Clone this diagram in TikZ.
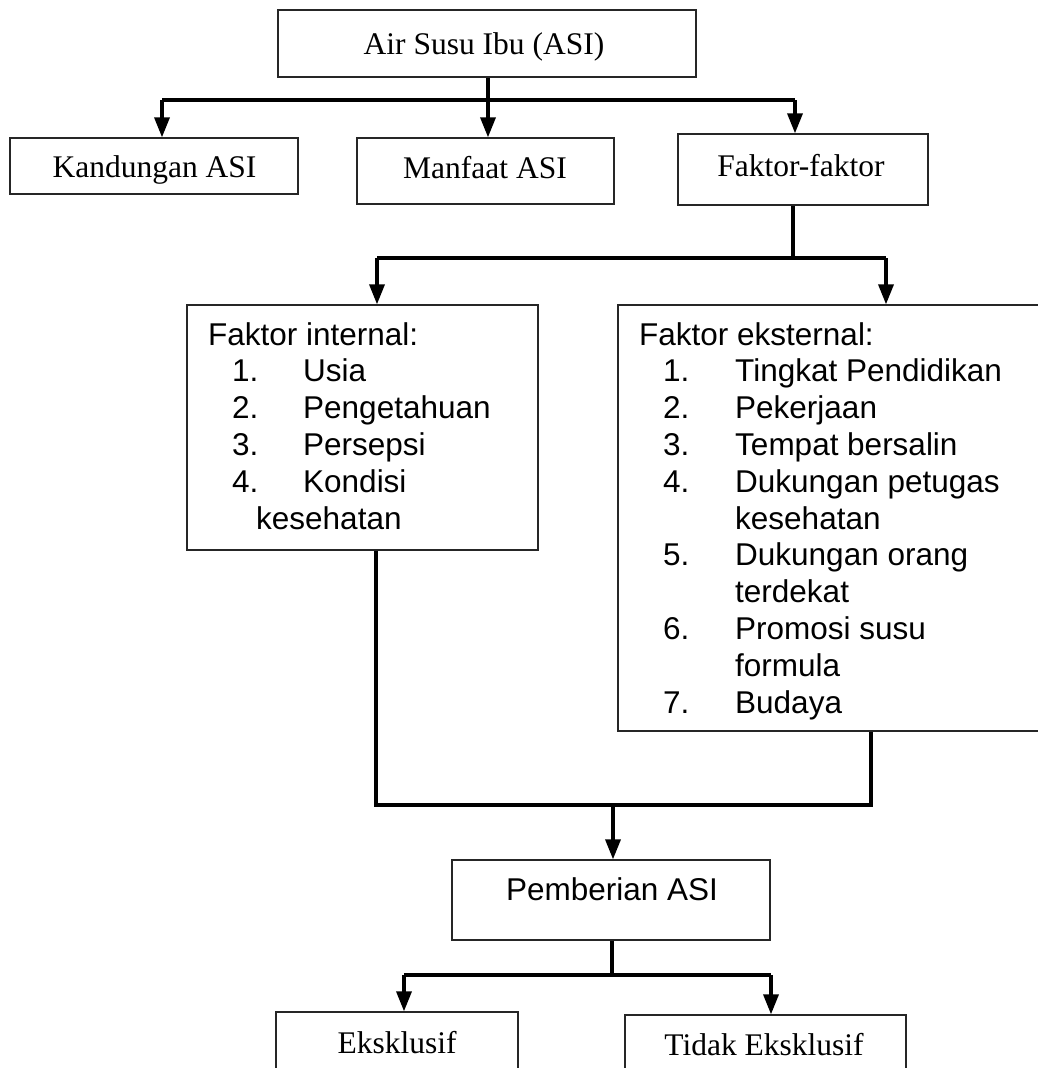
\documentclass[tikz,border=0pt]{standalone}
\usepackage{fontspec}
\setmainfont{Liberation Serif}
\newfontfamily\arialf{Liberation Sans}
\usetikzlibrary{arrows.meta}
\tikzset{
  box/.style={draw=black!85, line width=1.3pt, inner sep=0pt},
  conn/.style={line width=3.4pt, line join=miter},
  arr/.style={conn, -{Triangle[length=20pt,width=15pt]}},
  serift/.style={font=\fontsize{31.5}{36}\selectfont, inner sep=0pt},
  sanst/.style={font=\arialf\fontsize{31.5}{36}\selectfont, inner sep=0pt},
}
\begin{document}
\begin{tikzpicture}[x=1pt,y=-1pt]
\useasboundingbox (0,0) rectangle (1038,1068);
\clip (0,0) rectangle (1038,1068);
\fill[white] (0,0) rectangle (1038,1068);
% boxes
\node[box, minimum width=418pt, minimum height=67pt] (top) at (487,43.5) {};
\node[box, minimum width=288pt, minimum height=56pt] (kand) at (154,166) {};
\node[box, minimum width=257pt, minimum height=66pt] (manf) at (485.5,171) {};
\node[box, minimum width=250pt, minimum height=71pt] (fakt) at (803,169.5) {};
\node[box, minimum width=351pt, minimum height=245pt] (int) at (362.5,427.5) {};
\node[box, minimum width=442pt, minimum height=426pt] (ext) at (839,518) {};
\node[box, minimum width=318pt, minimum height=80pt] (pemb) at (611,900) {};
\node[box, minimum width=242pt, minimum height=80pt] (eks) at (397,1052) {};
\node[box, minimum width=281pt, minimum height=80pt] (tid) at (765.5,1055) {};
% texts
\node[serift, anchor=base] (ttop) at (484,54) {Air Susu Ibu (ASI)};
\node[serift, anchor=base] (tkand) at (154.5,177) {Kandungan ASI};
\node[serift, anchor=base] (tmanf) at (485,178) {Manfaat ASI};
\node[serift, anchor=base] (tfakt) at (801,176) {Faktor-faktor};
\node[sanst, anchor=base] (tpemb) at (612,900) {Pemberian ASI};
\node[serift, anchor=base] (teks) at (397,1053) {Eksklusif};
\node[serift, anchor=base] (ttid) at (764,1055) {Tidak Eksklusif};
% internal list
\node[sanst, anchor=base west] (ih) at (208,345) {Faktor internal:};
\foreach \n/\t [count=\k] in {1/Usia,2/Pengetahuan,3/Persepsi,4/Kondisi}{
  \node[sanst, anchor=base west] (in\k) at (232,345+36.9*\k) {\n.};
  \node[sanst, anchor=base west] (it\k) at (303,345+36.9*\k) {\t};
}
\node[sanst, anchor=base west] (ik) at (256,345+36.9*5) {kesehatan};
% external list
\node[sanst, anchor=base west] (eh) at (639,345) {Faktor eksternal:};
\foreach \r/\n/\t in {1/1./Tingkat Pendidikan,2/2./Pekerjaan,3/3./Tempat bersalin,4/4./Dukungan petugas,5//kesehatan,6/5./Dukungan orang,7//terdekat,8/6./Promosi susu,9//formula,10/7./Budaya}{
  \node[sanst, anchor=base west] (en\r) at (663,345+36.8*\r) {\n};
  \node[sanst, anchor=base west] (et\r) at (735,345+36.8*\r) {\t};
}
% connectors level 1
\coordinate (j1) at (488,100);
\coordinate (hL) at (162,100);
\coordinate (hR) at (795,100);
\draw[conn] (j1 |- top.south) -- (j1);
\draw[conn] (hL) -- (hR);
\draw[arr] (hL) -- (hL |- kand.north);
\draw[arr] (j1) -- (j1 |- manf.north);
\draw[arr] (hR) -- (hR |- fakt.north);
% level 2
\coordinate (f1) at (793,258);
\coordinate (gL) at (377,258);
\coordinate (gR) at (886,258);
\draw[conn] (f1 |- fakt.south) -- (f1);
\draw[conn] (gL) -- (gR);
\draw[arr] (gL) -- (gL |- int.north);
\draw[arr] (gR) -- (gR |- ext.north);
% merge
\coordinate (b1) at (376,805);
\coordinate (b2) at (871,805);
\coordinate (b3) at (613,805);
\draw[conn] (b1 |- int.south) -- (b1) -- (b2) -- (b2 |- ext.south);
\draw[arr] (b3) -- (b3 |- pemb.north);
% level 3
\coordinate (p1) at (612,975);
\coordinate (kL) at (404,975);
\coordinate (kR) at (771,975);
\draw[conn] (p1 |- pemb.south) -- (p1);
\draw[conn] (kL) -- (kR);
\draw[arr] (kL) -- (kL |- eks.north);
\draw[arr] (kR) -- (kR |- tid.north);
\end{tikzpicture}
\end{document}
